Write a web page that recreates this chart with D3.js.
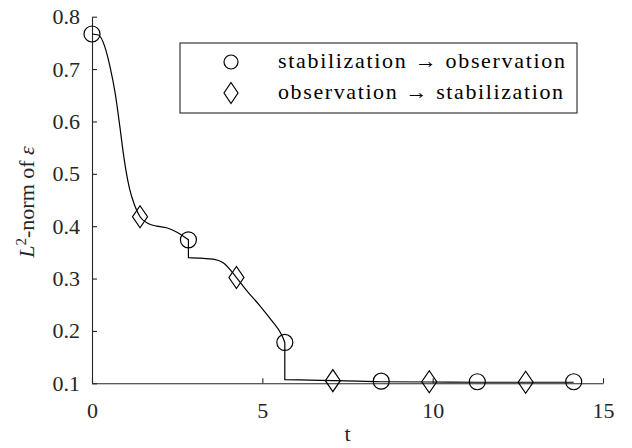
<!DOCTYPE html>
<html><head><meta charset="utf-8">
<script src="https://cdn.jsdelivr.net/npm/d3@7"></script></head>
<body style="margin:0">
<script>
// curve pieces (jumps at t = 2.83 and 5.66)
var tCurve1 = [0, 0.19, 0.38, 0.53, 0.68, 0.82, 0.92, 1.0, 1.1, 1.25, 1.41, 1.65, 1.9, 2.19, 2.48, 2.83];
var vCurve1 = [0.767, 0.765, 0.742, 0.704, 0.654, 0.589, 0.539, 0.505, 0.472, 0.44, 0.418, 0.405, 0.400, 0.397, 0.389, 0.374];
var tCurve2 = [2.83, 3.17, 3.56, 3.85, 4.24, 4.54, 4.93, 5.27, 5.57, 5.66];
var vCurve2 = [0.340, 0.339, 0.337, 0.330, 0.302, 0.277, 0.248, 0.220, 0.192, 0.178];
var tCurve3 = [5.66, 6.4, 7.07, 7.8, 8.49, 9.9, 11.31, 12.73, 14.14];
var vCurve3 = [0.107, 0.106, 0.105, 0.104, 0.103, 0.1025, 0.102, 0.102, 0.102];

// markers
var tCircle = [0, 2.83, 5.66, 8.49, 11.31, 14.14];
var vCircle = [0.767, 0.374, 0.178, 0.104, 0.103, 0.103];
var tDiamond = [1.41, 4.24, 7.07, 9.9, 12.73];
var vDiamond = [0.418, 0.302, 0.105, 0.103, 0.102];

var xTicks = [0, 5, 10, 15];
var yTicks = [0.1, 0.2, 0.3, 0.4, 0.5, 0.6, 0.7, 0.8];
var legendLabels = ["stabilization \u2192 observation", "observation \u2192 stabilization"];

(function() {
	var FONT = "'Liberation Serif', 'Times New Roman', serif";
	var svg = d3.select("body").append("svg")
				.attr("width", 632)
				.attr("height", 448)
				.style("font-family", FONT);

	var x = d3.scaleLinear().domain([0, 15]).range([92, 603]);
	var y = d3.scaleLinear().domain([0.1, 0.8]).range([383.3, 16.7]);

	var axisColor = "#262626";

	// y axis, ticks pointing in
	var gy = svg.append("g")
				.attr("transform", "translate(" + x(0) + ",0)")
				.call(d3.axisLeft(y).tickValues(yTicks).tickSize(-5).tickSizeOuter(0)
						.tickPadding(12).tickFormat(d3.format(".1f")));
	// x axis
	var gx = svg.append("g")
				.attr("transform", "translate(0," + y(0.1) + ")")
				.call(d3.axisBottom(x).tickValues(xTicks).tickSize(-5).tickSizeOuter(0)
						.tickPadding(19).tickFormat(d3.format("d")));

	[gx, gy].forEach(function(g) {
		g.attr("font-family", null).attr("font-size", null);
		g.select(".domain").attr("stroke", axisColor).attr("stroke-width", 1.1);
		g.selectAll(".tick line").attr("stroke", axisColor).attr("stroke-width", 1.1);
		g.selectAll(".tick text").attr("font-size", 22).attr("fill", axisColor)
			.style("font-family", FONT);
	});

	// axis titles
	svg.append("text")
		.attr("x", x(7.5)).attr("y", 441)
		.attr("text-anchor", "middle")
		.attr("font-size", 22)
		.attr("fill", axisColor)
		.style("font-family", FONT)
		.text("t");

	var yl = svg.append("text")
				.attr("transform", "translate(34,202) rotate(-90)")
				.attr("text-anchor", "middle")
				.attr("fill", axisColor)
				.attr("font-size", 22)
				.style("font-family", FONT);
	yl.append("tspan").attr("font-style", "italic").text("L");
	yl.append("tspan").attr("dy", -8).attr("font-size", 15).text("2");
	yl.append("tspan").attr("dy", 8).text("-norm of ");
	yl.append("tspan").attr("font-style", "italic").text("\u03b5");

	// the curve
	var line = d3.line()
				.x(function(d) { return x(d[0]); })
				.y(function(d) { return y(d[1]); })
				.curve(d3.curveMonotoneX);

	var pieces = [[tCurve1, vCurve1], [tCurve2, vCurve2], [tCurve3, vCurve3]];
	var pathD = pieces.map(function(p, i) {
		var s = line(d3.zip(p[0], p[1]));
		return i === 0 ? s : s.replace(/^M/, "L");
	}).join("");

	svg.append("path")
		.attr("d", pathD)
		.attr("fill", "none")
		.attr("stroke", "#000")
		.attr("stroke-width", 1.2);

	// markers
	var diamond = function(hw, hh) {
		return "M0," + (-hh) + "L" + hw + ",0L0," + hh + "L" + (-hw) + ",0Z";
	};

	svg.selectAll("circle.mk")
		.data(d3.zip(tCircle, vCircle))
		.enter()
		.append("circle")
		.attr("class", "mk")
		.attr("cx", function(d) { return x(d[0]); })
		.attr("cy", function(d) { return y(d[1]); })
		.attr("r", 8)
		.attr("fill", "none")
		.attr("stroke", "#000")
		.attr("stroke-width", 1.2);

	svg.selectAll("path.dm")
		.data(d3.zip(tDiamond, vDiamond))
		.enter()
		.append("path")
		.attr("class", "dm")
		.attr("transform", function(d) { return "translate(" + x(d[0]) + "," + y(d[1]) + ")"; })
		.attr("d", diamond(7.5, 11))
		.attr("fill", "none")
		.attr("stroke", "#000")
		.attr("stroke-width", 1.2);

	// legend
	var lg = svg.append("g");
	lg.append("rect")
		.attr("x", 180).attr("y", 43)
		.attr("width", 397).attr("height", 70)
		.attr("fill", "#fff")
		.attr("stroke", axisColor)
		.attr("stroke-width", 1.1);

	lg.append("circle")
		.attr("cx", 231).attr("cy", 62)
		.attr("r", 7)
		.attr("fill", "none").attr("stroke", "#000").attr("stroke-width", 1.2);
	lg.append("path")
		.attr("transform", "translate(231,93)")
		.attr("d", diamond(7, 10.5))
		.attr("fill", "none").attr("stroke", "#000").attr("stroke-width", 1.2);

	lg.selectAll("text.lt")
		.data(legendLabels)
		.enter()
		.append("text")
		.attr("class", "lt")
		.attr("x", 278)
		.attr("y", function(d, i) { return 68 + i * 31; })
		.attr("font-size", 22)
		.attr("fill", "#000")
		.attr("textLength", function(d, i) { return i === 0 ? 287 : 285; })
		.attr("lengthAdjust", "spacing")
		.style("font-family", FONT)
		.text(function(d) { return d; });
})();
</script>
</body></html>
